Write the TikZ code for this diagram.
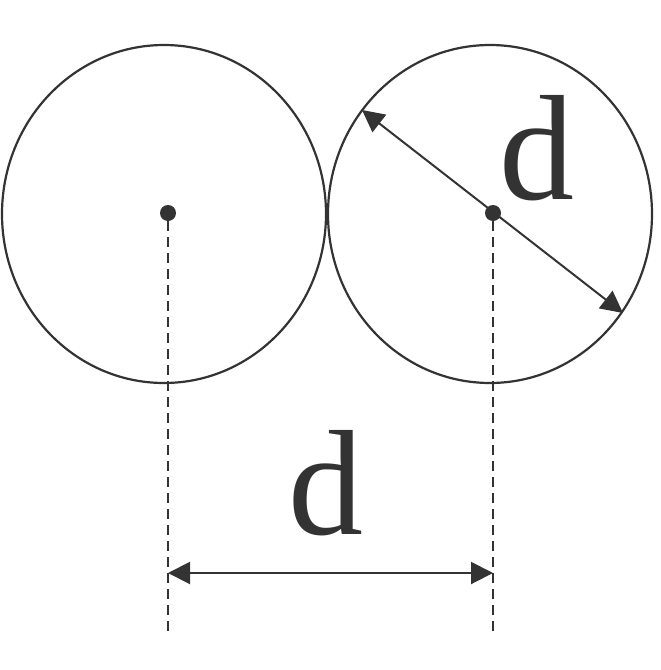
\documentclass[tikz,border=0pt]{standalone}
\usepackage{fontspec}
\newfontfamily\tms{Liberation Serif}
\usetikzlibrary{arrows.meta,shapes.geometric}
\definecolor{ink}{HTML}{333333}
\begin{document}
\begin{tikzpicture}[x=1pt,y=-1pt,
  ring/.style={draw=ink,line width=2.2pt,ellipse,minimum width=324pt,minimum height=338pt,inner sep=0pt},
  ctr/.style={circle,fill=ink,minimum size=16pt,inner sep=0pt},
  guide/.style={draw=ink,line width=2pt,dash pattern=on 10pt off 6pt},
  dim/.style={draw=ink,line width=2pt,{Triangle[length=22pt,width=22pt]}-{Triangle[length=22pt,width=22pt]}},
  lab/.style={text=ink,font=\tms\fontsize{150}{150}\selectfont,inner sep=0pt,anchor=base}]
\useasboundingbox (0,0) rectangle (661,670);
\node[ring] (c1) at (164,214) {};
\node[ring] (c2) at (490,214) {};
\node[ctr] (p1) at (168,213) {};
\node[ctr] (p2) at (493,213) {};
\coordinate (e1) at (168,633);
\coordinate (e2) at (493,633);
\draw[guide] (p1.south) -- (e1);
\draw[guide] (p2.south) -- (e2);
\coordinate (h1) at (168,573);
\coordinate (h2) at (493,573);
\draw[dim] (h1) -- (h2);
\coordinate (a1) at (362,110);
\coordinate (a2) at (623,313);
\draw[dim] (a1) -- (a2);
\node[lab] (d1) at (537,199) {d};
\node[lab] (d2) at (326,534) {d};
\end{tikzpicture}
\end{document}
